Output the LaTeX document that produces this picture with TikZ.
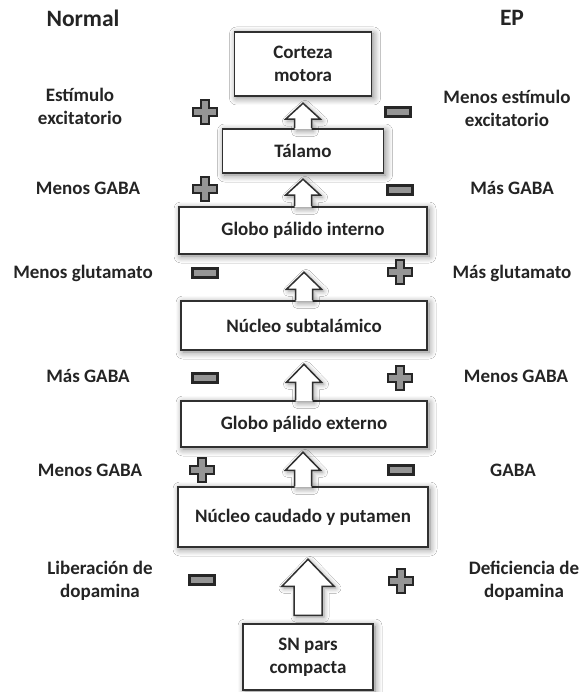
\documentclass[tikz,border=0pt]{standalone}
\usepackage{fontspec}
\setmainfont{Carlito}
\usetikzlibrary{calc,shadows.blur}

\definecolor{txtgray}{HTML}{242424}
\definecolor{signgray}{HTML}{959595}
\definecolor{framegray}{HTML}{303030}

% block arrow from the top of node #1, length #2, head height #3
\newcommand\blockarr[3]{%
  \fill[white, arrshadow] ($(#1.north)+(-8.5,1.3)$) -- ++(0,{-(#2-#3)-1.3}) -- ++(-9,0) -- ++(17.5,-#3) -- ++(17.5,#3) -- ++(-9,0) -- ++(0,{#2-#3+1.3}) -- cycle;
  \draw[arrline] ($(#1.north)+(-8.5,0)$) -- ++(0,{-(#2-#3)}) -- ++(-9,0) -- ++(17.5,-#3) -- ++(17.5,#3) -- ++(-9,0) -- ++(0,{#2-#3});
}

\tikzset{
  box/.style={draw=framegray, line width=1.5pt, fill=white, inner sep=0pt, align=center, text=txtgray,
    font=\fontsize{19}{23}\selectfont\bfseries,
    blur shadow={shadow blur steps=8, shadow xshift=2pt, shadow yshift=-2pt, shadow blur radius=7pt, shadow opacity=50}},
  lab/.style={align=center, text=txtgray, font=\fontsize{19}{23}\selectfont\bfseries},
  hdr/.style={text=txtgray, font=\fontsize{23.5}{28}\selectfont\bfseries},
  arrline/.style={draw=framegray, line width=1.5pt},
  arrshadow/.style={blur shadow={shadow blur steps=6, shadow xshift=2pt, shadow yshift=-2pt, shadow blur radius=5pt, shadow opacity=40}},
  signline/.style={fill=signgray, draw=black!85, line width=2.2pt},
  plussign/.pic={\filldraw[signline] (-4,-12) -- (4,-12) -- (4,-4) -- (12,-4) -- (12,4) -- (4,4) -- (4,12) -- (-4,12) -- (-4,4) -- (-12,4) -- (-12,-4) -- (-4,-4) -- cycle;},
  minussign/.pic={\filldraw[signline] (-12.5,-4.5) rectangle (12.5,4.5);}
}

\begin{document}
\begin{tikzpicture}[x=1pt,y=-1pt]
\useasboundingbox[fill=white] (0,0) rectangle (585,692);
% column heads
\node[hdr] (hdnormal) at (83,18) {Normal};
\node[hdr] (hdep) at (512,18) {EP};
% boxes
\node[box, minimum width=137pt, minimum height=64pt] (cor) at (303,64) {Corteza\\motora};
\node[box, minimum width=161pt, minimum height=44pt] (tal) at (303,151) {Tálamo};
\node[box, minimum width=248pt, minimum height=47pt] (gpi) at (303,230.5) {Globo pálido interno};
\node[box, minimum width=246pt, minimum height=49pt] (nst) at (304,325.5) {Núcleo subtalámico};
\node[box, minimum width=246pt, minimum height=46pt] (gpe) at (304,424) {Globo pálido externo};
\node[box, minimum width=250pt, minimum height=60pt] (ncp) at (303,517) {Núcleo caudado y putamen};
\node[box, minimum width=130pt, minimum height=66pt] (sn) at (308,657) {SN pars\\compacta};
% arrows
\blockarr{tal}{25}{16}
\blockarr{gpi}{27}{16}
\blockarr{nst}{28}{17}
\blockarr{gpe}{36}{18}
\blockarr{ncp}{34}{18}
\coordinate (snbase) at ($(sn.north)+(0,-8)$);
\coordinate (sntip) at ($(sn.north)+(0,-64)$);
\filldraw[fill=white, arrline, arrshadow] ($(snbase)+(-14,0)$) -- ($(snbase)+(-14,-29)$) -- ($(snbase)+(-26,-29)$) -- (sntip) -- ($(snbase)+(26,-29)$) -- ($(snbase)+(14,-29)$) -- ($(snbase)+(14,0)$) -- cycle;
% left column
\node[lab] (l1) at (80,106) {Estímulo\\excitatorio};
\node[lab] (l2) at (88,188) {Menos GABA};
\node[lab] (l3) at (83,273) {Menos glutamato};
\node[lab] (l4) at (88,376) {Más GABA};
\node[lab] (l5) at (90,470) {Menos GABA};
\node[lab] (l6) at (100,581) {Liberación de\\dopamina};
% right column
\node[lab] (r1) at (507,108) {Menos estímulo\\excitatorio};
\node[lab] (r2) at (512,188) {Más GABA};
\node[lab] (r3) at (512,273) {Más glutamato};
\node[lab] (r4) at (516,376) {Menos GABA};
\node[lab] (r5) at (513,470) {GABA};
\node[lab] (r6) at (524,581) {Deficiencia de\\dopamina};
% signs
\pic at (205,112) {plussign};
\pic at (398,112) {minussign};
\pic at (205,189) {plussign};
\pic at (400,190) {minussign};
\pic at (205,273) {minussign};
\pic at (400,272) {plussign};
\pic at (205,378) {minussign};
\pic at (400,378) {plussign};
\pic at (202,470) {plussign};
\pic at (401,470) {minussign};
\pic at (202,580) {minussign};
\pic at (401,581) {plussign};
\end{tikzpicture}
\end{document}
